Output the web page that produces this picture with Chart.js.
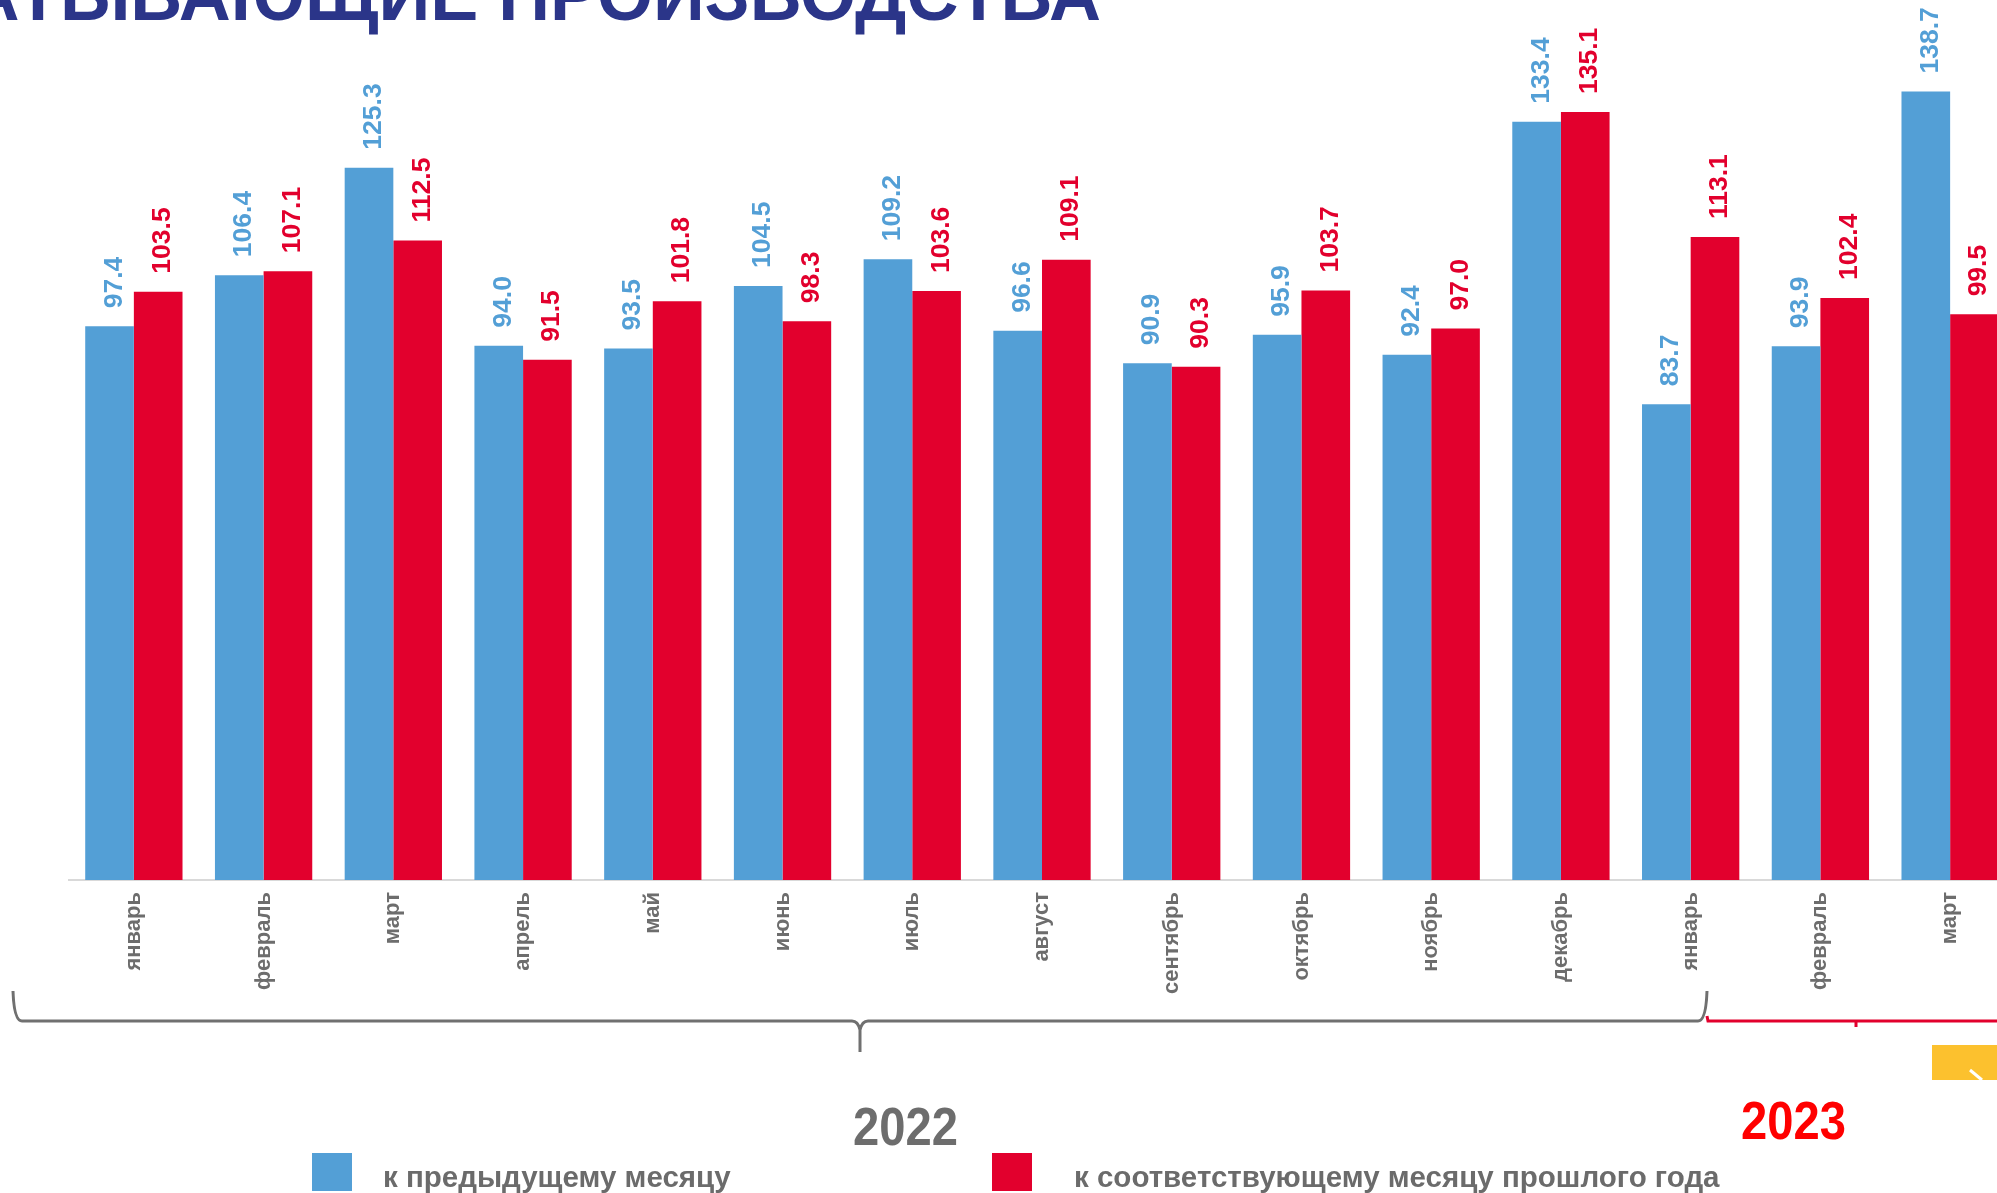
<!DOCTYPE html>
<html lang="ru">
<head>
<meta charset="utf-8">
<script src="https://cdn.jsdelivr.net/npm/chart.js@4.4.1/dist/chart.umd.min.js"></script>
<style>
  html, body { margin: 0; padding: 0; width: 1997px; height: 1193px; overflow: hidden; background: #fff; }
  body { position: relative; font-family: "Liberation Sans", Arial, sans-serif; }
  #wrap { position: absolute; left: 0; top: 0; width: 2015px; height: 1193px; }
  .title { position: absolute; left: 1101px; top: -41px; transform: translateX(-100%); white-space: nowrap;
           font-weight: bold; font-size: 72px; line-height: 1; color: #2b3589; }
  .year { position: absolute; font-weight: bold; font-size: 53px; line-height: 1; transform: scaleX(0.89); transform-origin: left top; }
  .swatch { position: absolute; top: 1153px; width: 40px; height: 38px; }
  .legtext { position: absolute; top: 1162px; font-weight: bold; font-size: 29.5px; line-height: 1; color: #6b6b6b; white-space: nowrap; }
  svg { position: absolute; left: 0; top: 0; }
</style>
</head>
<body>
<div id="wrap"><canvas id="chart" width="2015" height="1193"></canvas></div>
<div class="title">ОБРАБАТЫВАЮЩИЕ ПРОИЗВОДСТВА</div>

<svg width="1997" height="1193">
  <!-- скобка 2022 -->
  <path d="M13 991 Q14 1021 22 1021 L852 1021 Q858 1021 860 1030 L860 1052 M860 1030 Q862 1021 868 1021 L1698 1021 Q1706 1021 1707 991"
        fill="none" stroke="#707070" stroke-width="3"/>
  <!-- скобка 2023 -->
  <path d="M1707 1016 L1708 1021 L1997 1021 M1856 1021 L1856 1027" fill="none" stroke="#e2002d" stroke-width="3"/>
  <rect x="1932" y="1045" width="65" height="35" fill="#fcc12e"/>
  <line x1="1970" y1="1070" x2="1982" y2="1080" stroke="#fff" stroke-width="3"/>
</svg>

<div class="year" style="left:853px; top:1100px; color:#6d6d6d;">2022</div>
<div class="year" style="left:1741px; top:1094px; color:#ff0000;">2023</div>

<div class="swatch" style="left:312px; background:#539fd6;"></div>
<div class="legtext" style="left:383px;">к предыдущему месяцу</div>
<div class="swatch" style="left:992px; background:#e2002d;"></div>
<div class="legtext" style="left:1074px;">к соответствующему месяцу прошлого года</div>

<script>
const months = ["январь", "февраль", "март", "апрель", "май", "июнь", "июль",
                "август", "сентябрь", "октябрь", "ноябрь", "декабрь",
                "январь", "февраль", "март"];
const prevMonth = [97.4, 106.4, 125.3, 94.0, 93.5, 104.5, 109.2, 96.6, 90.9, 95.9, 92.4, 133.4, 83.7, 93.9, 138.7];
const prevYear = [103.5, 107.1, 112.5, 91.5, 101.8, 98.3, 103.6, 109.1, 90.3, 103.7, 97.0, 135.1, 113.1, 102.4, 99.5];

const blue = '#539fd6';
const red = '#e2002d';

// подписи значений, повернутые вертикально
const valueLabels = {
  id: 'valueLabels',
  afterDatasetsDraw(chart) {
    const ctx = chart.ctx;
    chart.data.datasets.forEach((ds, i) => {
      chart.getDatasetMeta(i).data.forEach((bar, j) => {
        ctx.save();
        ctx.translate(bar.x, bar.y - 18);
        ctx.rotate(-Math.PI / 2);
        ctx.font = 'bold 26.5px "Liberation Sans", Arial, sans-serif';
        ctx.fillStyle = ds.backgroundColor;
        ctx.textAlign = 'left';
        ctx.textBaseline = 'alphabetic';
        ctx.fillText(ds.data[j].toFixed(1), 0, 12);
        ctx.restore();
      });
    });
  }
};

new Chart(document.getElementById('chart'), {
  type: 'bar',
  data: {
    labels: months,
    datasets: [
      { label: 'к предыдущему месяцу', data: prevMonth, backgroundColor: blue, borderWidth: 0 },
      { label: 'к соответствующему месяцу прошлого года', data: prevYear, backgroundColor: red, borderWidth: 0 }
    ]
  },
  options: {
    responsive: false,
    animation: false,
    layout: { padding: { left: 69, top: 0, right: 0, bottom: 0 } },
    datasets: { bar: { categoryPercentage: 0.75, barPercentage: 1.0 } },
    plugins: { legend: { display: false }, tooltip: { enabled: false } },
    scales: {
      y: { display: false, min: 0, max: 154.8 },
      x: {
        grid: { display: false },
        border: { display: true, color: '#d9d9d9', width: 2 },
        ticks: {
          color: '#6d6d6d',
          font: { family: '"Liberation Sans", Arial, sans-serif', size: 22, weight: 'bold' },
          minRotation: 90,
          maxRotation: 90,
          padding: 4,
          autoSkip: false
        },
        afterFit: axis => { axis.height = 313; }
      }
    }
  },
  plugins: [valueLabels]
});
</script>
</body>
</html>
